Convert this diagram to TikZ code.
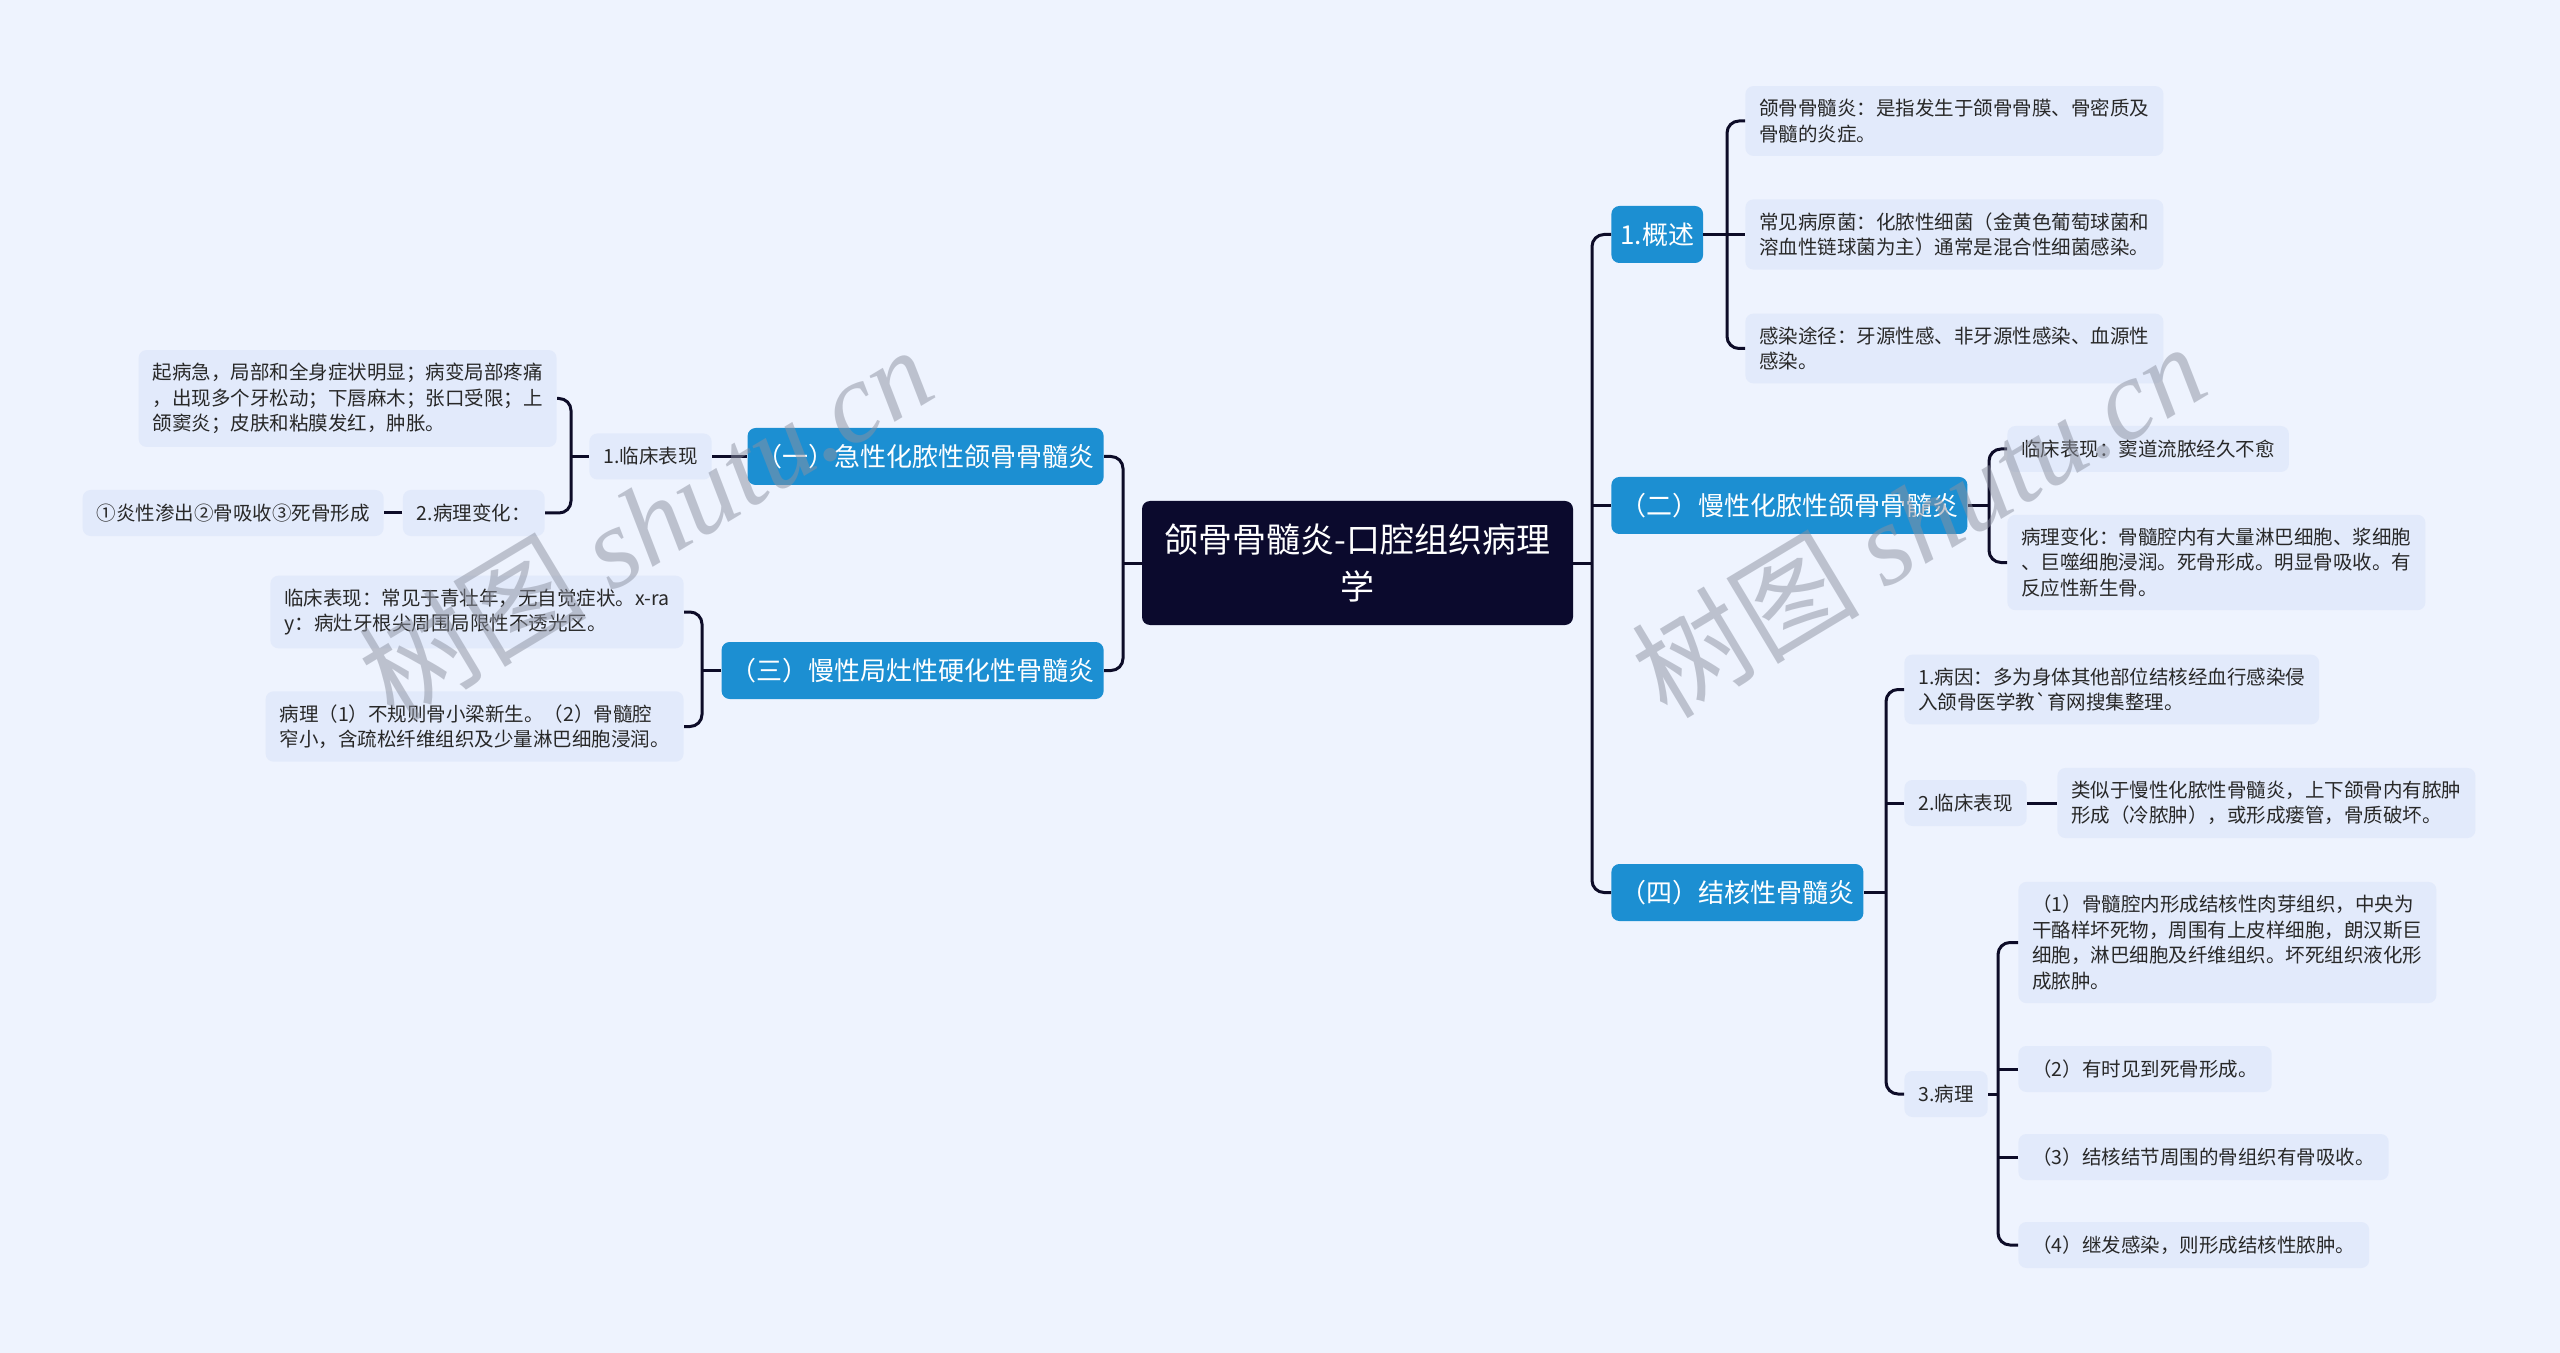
\documentclass[tikz,border=0pt]{standalone}
\usepackage{fontspec}
\setmainfont{Noto Sans CJK SC}
\newfontfamily\wmserif{Liberation Serif}
\usetikzlibrary{calc}
\definecolor{bg}{RGB}{238,243,254}
\definecolor{leaf}{RGB}{226,234,251}
\definecolor{blu}{RGB}{28,143,210}
\definecolor{cen}{RGB}{11,10,45}
\definecolor{ln}{RGB}{13,12,40}
\definecolor{txt}{RGB}{40,40,40}
\definecolor{wm}{RGB}{140,145,160}
\begin{document}
\begin{tikzpicture}[x=0.5pt,y=-0.5pt,
  conn/.style={draw=ln,line width=1.5pt,rounded corners=6pt},
  leafbox/.style={fill=leaf,rounded corners=4pt,inner xsep=7pt,inner ysep=6.5pt,align=left,text=txt,font=\fontsize{9.75pt}{12.8pt}\selectfont},
  single/.style={leafbox,minimum height=23pt},
  bluebox/.style={fill=blu,rounded corners=4pt,inner xsep=4.5pt,minimum height=28.5pt,text=white,font=\fontsize{13pt}{16pt}\selectfont},
  cenbox/.style={fill=cen,rounded corners=4pt,text=white,align=center,minimum width=215.5pt,minimum height=62pt,font=\fontsize{17pt}{23.5pt}\selectfont},
  wmark/.style={text=wm,opacity=0.5,font=\fontsize{57pt}{60pt}\selectfont,rotate=31}
]
\path[fill=bg] (0,0) rectangle (2560,1353);
\useasboundingbox (0,0) rectangle (2560,1353);

% central
\node[cenbox] (c) at (1357.5,563) {颌骨骨髓炎-口腔组织病理\\学};

% left main branches
\node[bluebox,anchor=east] (b1) at (1104,456.5) {（一）急性化脓性颌骨骨髓炎};
\node[bluebox,anchor=east] (b3) at (1104,670.5) {（三）慢性局灶性硬化性骨髓炎};

% right main branches
\node[bluebox,anchor=west] (r1) at (1611,234.5) {1.概述};
\node[bluebox,anchor=west] (r2) at (1611,505.5) {（二）慢性化脓性颌骨骨髓炎};
\node[bluebox,anchor=west] (r4) at (1611,892.5) {（四）结核性骨髓炎};

% left leaves
\node[single,anchor=east] (L1a) at (712,456.5) {1.临床表现};
\node[leafbox,anchor=east] (L1c) at (557,398.5) {起病急，局部和全身症状明显；病变局部疼痛\\，出现多个牙松动；下唇麻木；张口受限；上\\颌窦炎；皮肤和粘膜发红，肿胀。};
\node[single,anchor=east] (L1b) at (545,513) {2.病理变化：};
\node[single,anchor=east] (L1d) at (384,513) {①炎性渗出②骨吸收③死骨形成};
\node[leafbox,anchor=east] (L3a) at (684,612) {临床表现：常见于青壮年，无自觉症状。x-ra\\y：病灶牙根尖周围局限性不透光区。};
\node[leafbox,anchor=east] (L3b) at (684,726.5) {病理（1）不规则骨小梁新生。（2）骨髓腔\\窄小，含疏松纤维组织及少量淋巴细胞浸润。};

% right leaves
\node[leafbox,anchor=west] (R1a) at (1745,121) {颌骨骨髓炎：是指发生于颌骨骨膜、骨密质及\\骨髓的炎症。};
\node[leafbox,anchor=west] (R1b) at (1745,234.5) {常见病原菌：化脓性细菌（金黄色葡萄球菌和\\溶血性链球菌为主）通常是混合性细菌感染。};
\node[leafbox,anchor=west] (R1c) at (1745,348.5) {感染途径：牙源性感、非牙源性感染、血源性\\感染。};
\node[single,anchor=west] (R2a) at (2007,449) {临床表现：窦道流脓经久不愈};
\node[leafbox,anchor=west] (R2b) at (2007,562.5) {病理变化：骨髓腔内有大量淋巴细胞、浆细胞\\、巨噬细胞浸润。死骨形成。明显骨吸收。有\\反应性新生骨。};
\node[leafbox,anchor=west] (R4a) at (1904,689.5) {1.病因：多为身体其他部位结核经血行感染侵\\入颌骨医学教\textasciigrave 育网搜集整理。};
\node[single,anchor=west] (R4b) at (1904,803) {2.临床表现};
\node[leafbox,anchor=west] (R4b1) at (2057,803) {类似于慢性化脓性骨髓炎，上下颌骨内有脓肿\\形成（冷脓肿），或形成瘘管，骨质破坏。};
\node[single,anchor=west] (R4c) at (1904,1094) {3.病理};
\node[leafbox,anchor=west] (R4c1) at (2018,942.5) {（1）骨髓腔内形成结核性肉芽组织，中央为\\干酪样坏死物，周围有上皮样细胞，朗汉斯巨\\细胞，淋巴细胞及纤维组织。坏死组织液化形\\成脓肿。};
\node[single,anchor=west] (R4c2) at (2018,1069) {（2）有时见到死骨形成。};
\node[single,anchor=west] (R4c3) at (2018,1157) {（3）结核结节周围的骨组织有骨吸收。};
\node[single,anchor=west] (R4c4) at (2018,1245) {（4）继发感染，则形成结核性脓肿。};

% spine coordinates
\coordinate (cL) at (1123,563);
\coordinate (cR) at (1592,563);
\coordinate (s1) at (571,456.5);
\coordinate (s3) at (702,670.5);
\coordinate (s4) at (1727,234.5);
\coordinate (s5) at (1989,505.5);
\coordinate (s6) at (1886,892.5);
\coordinate (s7) at (1998,1094);

% connectors
\draw[conn] (c.west) -- (cL);
\draw[conn] (b1.east) -| (cL) |- (b3.east);
\draw[conn] (c.east) -- (cR);
\draw[conn] (r1.west) -| (cR) |- (r4.west);
\draw[conn] (r2.west) -- (r2.west -| cR);

\draw[conn] (b1.west) -- (L1a.east);
\draw[conn] (L1a.west) -- (s1);
\draw[conn] (L1c.east) -| (s1) |- (L1b.east);
\draw[conn] (L1b.west) -- (L1d.east);
\draw[conn] (b3.west) -- (s3);
\draw[conn] (L3a.east) -| (s3) |- (L3b.east);

\draw[conn] (r1.east) -- (R1b.west);
\draw[conn] (R1a.west) -| (s4) |- (R1c.west);
\draw[conn] (r2.east) -- (s5);
\draw[conn] (R2a.west) -| (s5) |- (R2b.west);
\draw[conn] (r4.east) -- (s6);
\draw[conn] (R4a.west) -| (s6) |- (R4c.west);
\draw[conn] (R4b.west) -- (R4b.west -| s6);
\draw[conn] (R4b.east) -- (R4b1.west);
\draw[conn] (R4c.east) -- (s7);
\draw[conn] (R4c1.west) -| (s7) |- (R4c4.west);
\draw[conn] (R4c2.west) -- (R4c2.west -| s7);
\draw[conn] (R4c3.west) -- (R4c3.west -| s7);

% watermarks
\node[wmark] (w1) at (645,522) {树图 {\wmserif\itshape shutu.cn}};
\node[wmark] (w2) at (1918,519) {树图 {\wmserif\itshape shutu.cn}};
\end{tikzpicture}
\end{document}
